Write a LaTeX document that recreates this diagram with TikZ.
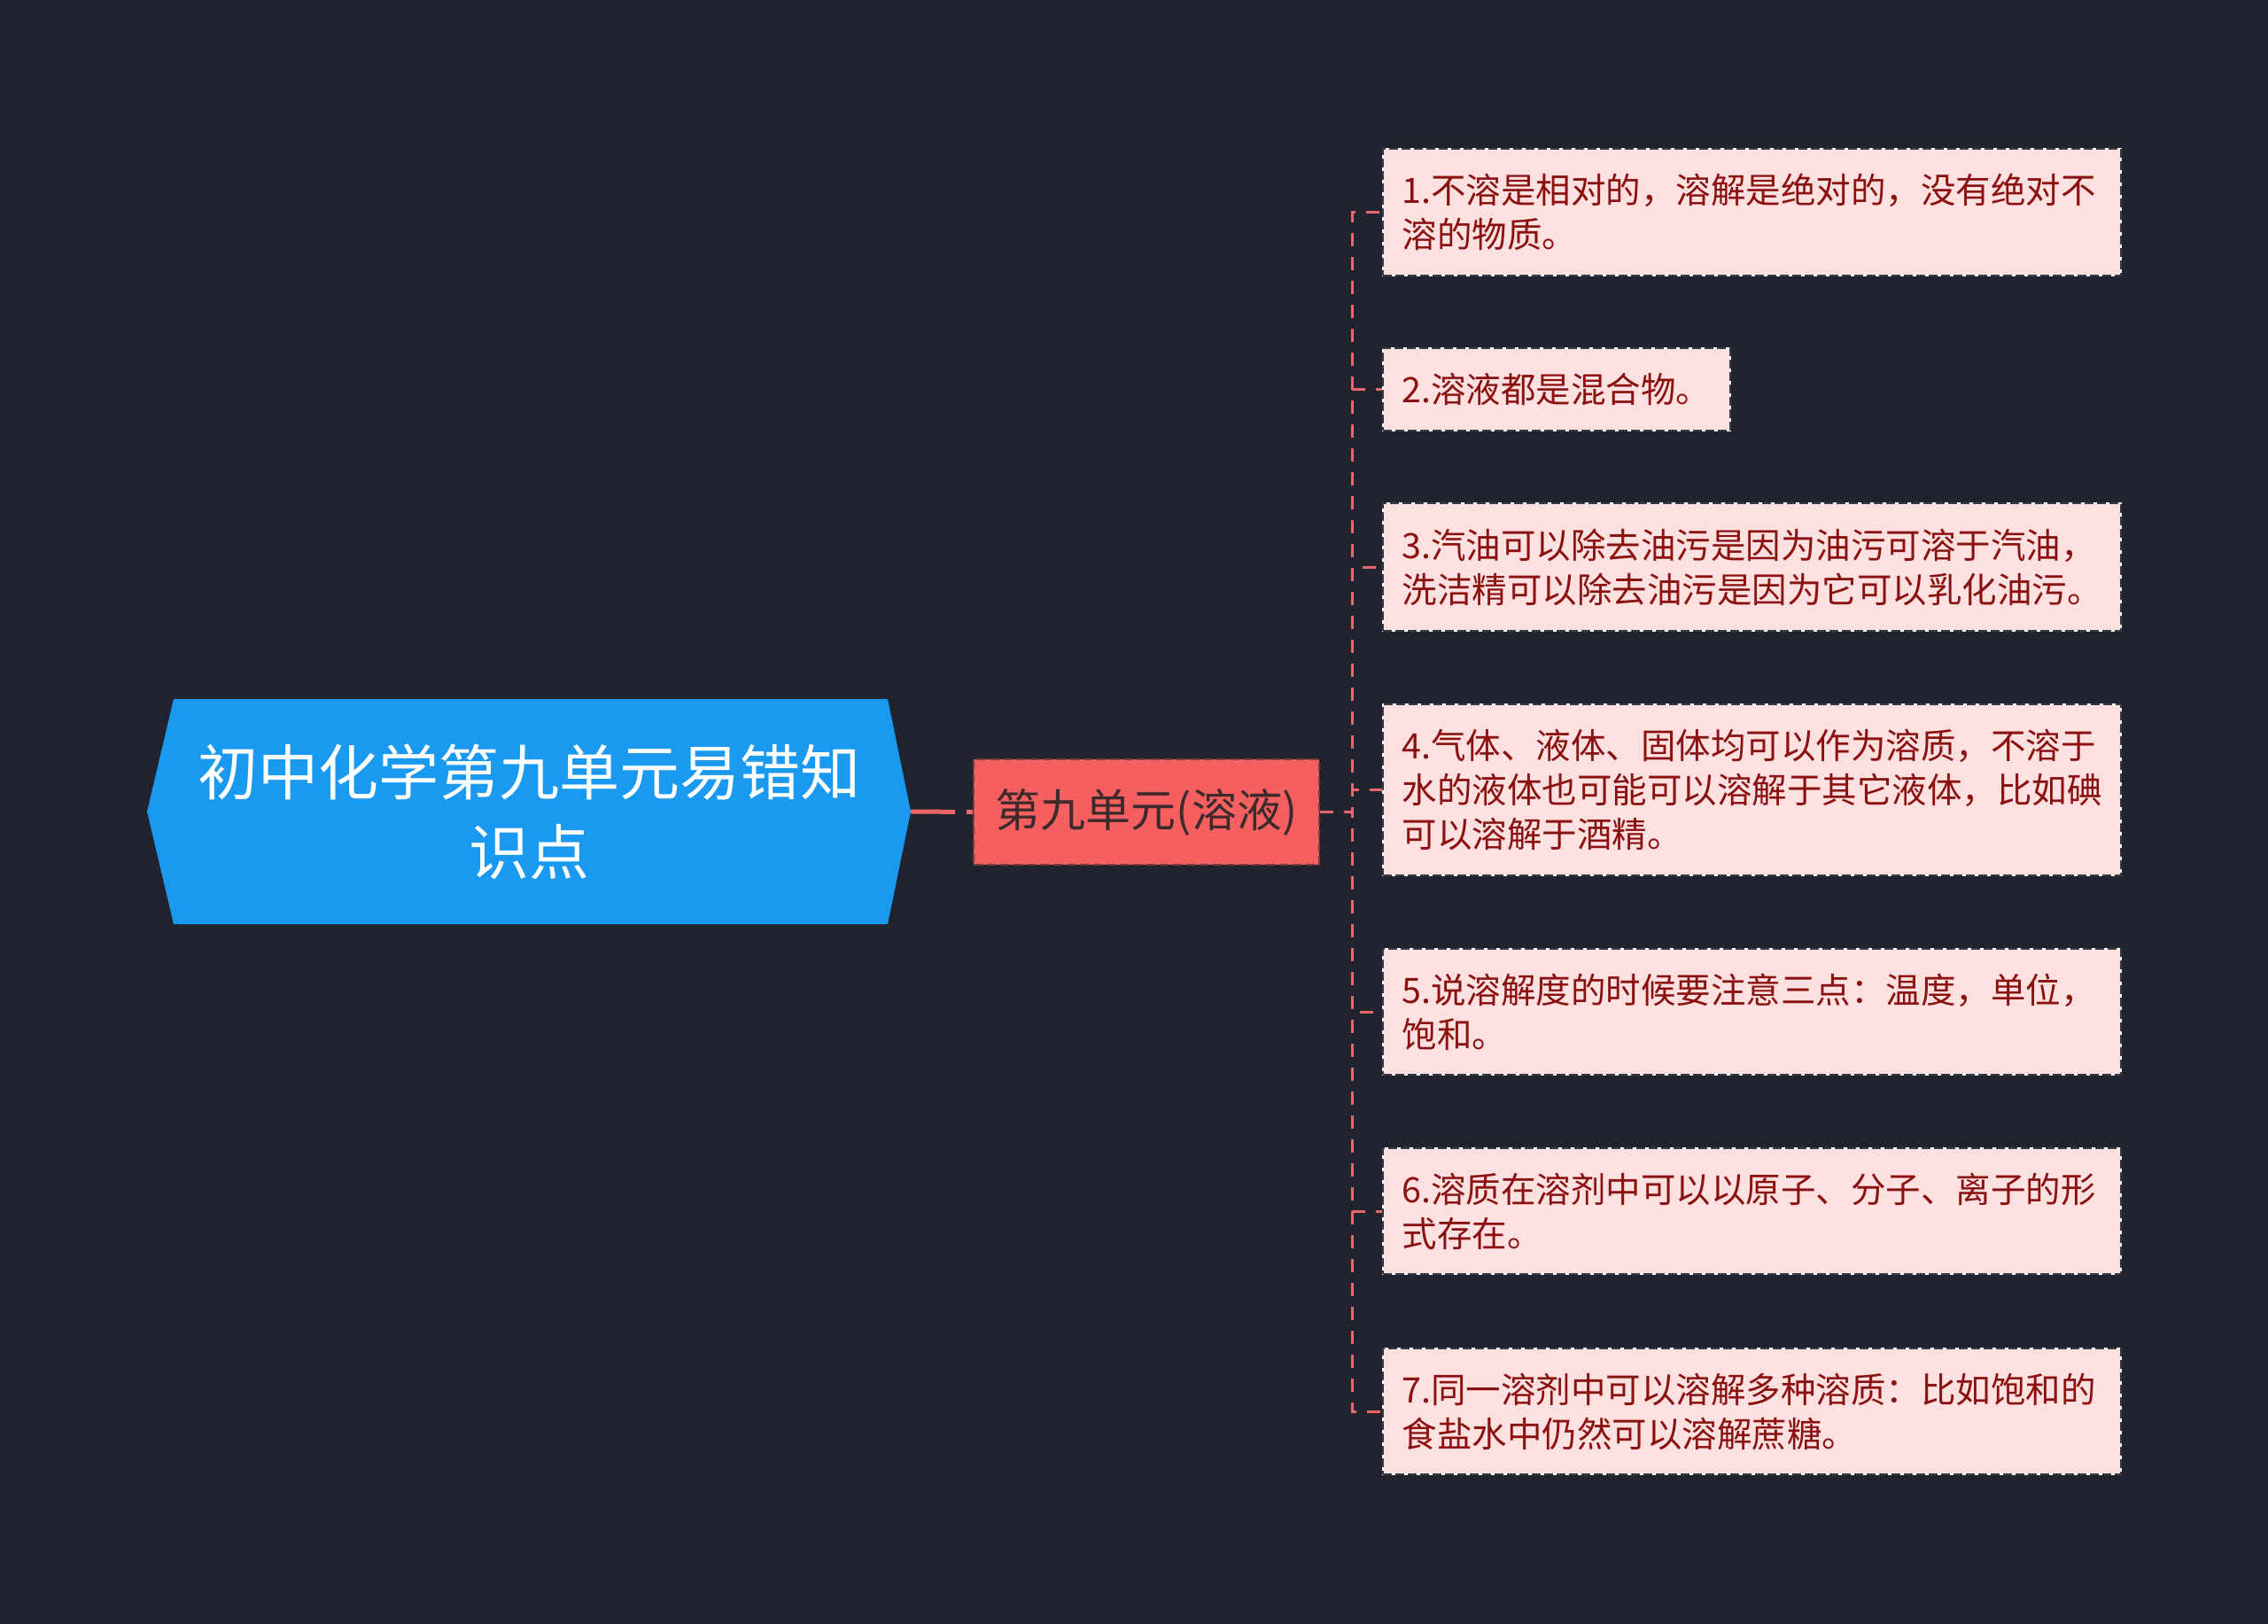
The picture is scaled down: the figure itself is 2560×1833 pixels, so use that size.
\documentclass[tikz,border=0pt]{standalone}
\usepackage{fontspec}
\newfontfamily\cjk{Noto Sans CJK SC}
\definecolor{bg}{HTML}{21242F}
\definecolor{rootfill}{HTML}{1A99F0}
\definecolor{midfill}{HTML}{F65F5F}
\definecolor{midborder}{HTML}{7A3A40}
\definecolor{midtext}{HTML}{3C2A2C}
\definecolor{leaffill}{HTML}{FDE0E0}
\definecolor{leafborder}{HTML}{3A3A44}
\definecolor{leaftext}{HTML}{8B1010}
\definecolor{conncol}{HTML}{E8686A}
\tikzset{
  roottext/.style={text=white, font=\cjk\fontsize{68}{90}\selectfont, align=center, inner sep=0pt},
  midbox/.style={fill=midfill, draw=midborder, line width=2pt, dash pattern=on 10pt off 5pt,
    minimum width=390pt, minimum height=119pt, inner sep=0pt, text=midtext,
    font=\cjk\fontsize{51}{60}\selectfont},
  leafbox/.style={fill=leaffill, draw=white, line width=2pt,
    postaction={draw=leafborder, line width=2pt, dash pattern=on 10pt off 4pt},
    anchor=west, inner xsep=21.5pt, inner ysep=0pt, align=left, text=leaftext,
    font=\cjk\fontsize{39.5}{50}\selectfont},
  leafwide/.style={leafbox, text width=790pt},
  conn/.style={draw=conncol, line width=3pt, dash pattern=on 15pt off 12pt},
  thickconn/.style={draw=conncol, line width=5pt, dash pattern=on 50pt off 13pt}
}
\begin{document}
\begin{tikzpicture}[x=1pt,y=-1pt]
\fill[bg] (0,0) rectangle (2560,1833);
\useasboundingbox (0,0) rectangle (2560,1833);

% root
\fill[rootfill] (166,916) -- (196,789) -- (1002,789) -- (1028,916) -- (1002,1043) -- (196,1043) -- cycle;
\node[roottext] (root) at (597,916) {初中化学第九单元易错知\\识点};
\coordinate (rootE) at (1028,916);

% middle
\node[midbox] (mid) at (1294,916.5) {第九单元(溶液)};

% leaves
\node[leafwide, minimum height=143pt] (l1) at (1560,239.5) {1.不溶是相对的，溶解是绝对的，没有绝对不\\溶的物质。};
\node[leafbox, minimum height=93pt] (l2) at (1560,439.5) {2.溶液都是混合物。};
\node[leafwide, minimum height=144pt] (l3) at (1560,640) {3.汽油可以除去油污是因为油污可溶于汽油，\\洗洁精可以除去油污是因为它可以乳化油污。};
\node[leafwide, minimum height=193pt] (l4) at (1560,891.5) {4.气体、液体、固体均可以作为溶质，不溶于\\水的液体也可能可以溶解于其它液体，比如碘\\可以溶解于酒精。};
\node[leafwide, minimum height=142pt] (l5) at (1560,1142) {5.说溶解度的时候要注意三点：温度，单位，\\饱和。};
\node[leafwide, minimum height=142pt] (l6) at (1560,1367) {6.溶质在溶剂中可以以原子、分子、离子的形\\式存在。};
\node[leafwide, minimum height=142pt] (l7) at (1560,1593) {7.同一溶剂中可以溶解多种溶质：比如饱和的\\食盐水中仍然可以溶解蔗糖。};

% connectors
\draw[thickconn] (rootE) -- (mid.west);
\foreach \n in {l1,l2,l3,l4,l5,l6,l7}{
  \draw[conn] (mid.east) -- ++(36,0) |- (\n.west);
}
\end{tikzpicture}
\end{document}
